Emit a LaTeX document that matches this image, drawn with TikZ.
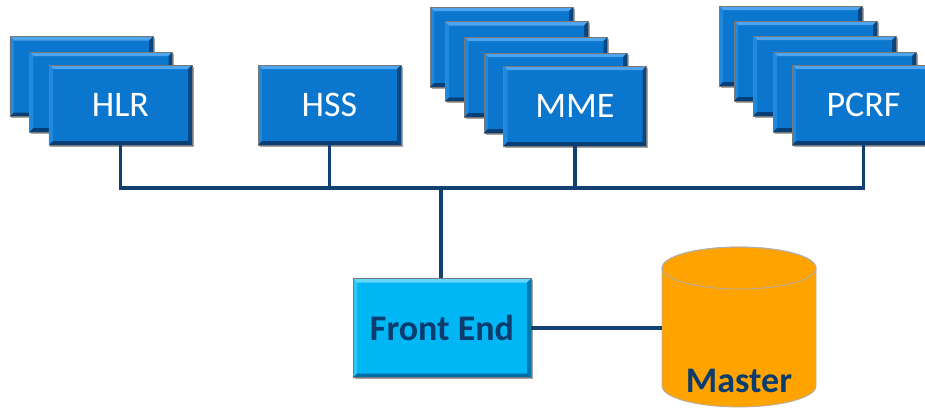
\documentclass[tikz,border=0pt]{standalone}
\usepackage{fontspec}
\setmainfont{Carlito}
\usetikzlibrary{calc,shadows}

\definecolor{boxblue}{RGB}{10,118,206}
\definecolor{bluetop}{RGB}{78,164,238}
\definecolor{blueleft}{RGB}{34,136,220}
\definecolor{blueright}{RGB}{8,70,130}
\definecolor{bluebot}{RGB}{6,62,118}
\definecolor{fecyan}{RGB}{0,182,244}
\definecolor{cyantop}{RGB}{100,214,252}
\definecolor{cyanleft}{RGB}{48,200,250}
\definecolor{cyanright}{RGB}{0,120,176}
\definecolor{cyanbot}{RGB}{0,108,164}
\definecolor{edgegrey}{RGB}{120,120,120}
\definecolor{busnavy}{RGB}{18,64,112}
\definecolor{textnavy}{RGB}{12,60,110}
\definecolor{dborange}{RGB}{255,163,0}
\definecolor{dbedge}{RGB}{175,175,175}

% bevel bands painted inside a rectangular node
\newcommand\bw{4bp}
\newcommand\bevelpaint[4]{%
  \path (path picture bounding box.north west) coordinate (bNW)
        (path picture bounding box.north east) coordinate (bNE)
        (path picture bounding box.south west) coordinate (bSW)
        (path picture bounding box.south east) coordinate (bSE);
  \fill[#1] (bNW) -- (bNE) -- ([shift={(-\bw,-\bw)}]bNE) -- ([shift={(\bw,-\bw)}]bNW) -- cycle;
  \fill[#2] (bNW) -- ([shift={(\bw,-\bw)}]bNW) -- ([shift={(\bw,\bw)}]bSW) -- (bSW) -- cycle;
  \fill[#3] (bNE) -- (bSE) -- ([shift={(-\bw,\bw)}]bSE) -- ([shift={(-\bw,-\bw)}]bNE) -- cycle;
  \fill[#4] (bSW) -- ([shift={(\bw,\bw)}]bSW) -- ([shift={(-\bw,\bw)}]bSE) -- (bSE) -- cycle;
}

\tikzset{
  softshadow/.style={drop shadow={opacity=0.35, shadow xshift=1.5bp,
    shadow yshift=-1.5bp, fill=black}},
  nodebox/.style={rectangle, minimum width=143bp, minimum height=80bp,
    inner sep=0pt, fill=boxblue, draw=edgegrey, line width=0.6bp,
    softshadow, text=white, font=\fontsize{36bp}{42bp}\selectfont,
    path picture={\bevelpaint{bluetop}{blueleft}{blueright}{bluebot}}},
  frontbox/.style={rectangle, minimum width=178bp, minimum height=99bp,
    inner sep=0pt, fill=fecyan, draw=edgegrey, line width=0.6bp,
    softshadow, text=textnavy, font=\fontsize{36bp}{42bp}\selectfont\bfseries,
    path picture={\bevelpaint{cyantop}{cyanleft}{cyanright}{cyanbot}}},
  bus/.style={draw=busnavy, line width=3.3bp},
  dblabel/.style={text=textnavy, inner sep=0pt,
    font=\fontsize{36bp}{42bp}\selectfont\bfseries},
}

\begin{document}
\begin{tikzpicture}[x=1bp, y=-1bp]
\useasboundingbox[fill=white] (0,0) rectangle (925,407);

% HLR stack
\node[nodebox] (hlr1) at (81.5,76.5) {};
\node[nodebox] (hlr2) at (101,92) {};
\node[nodebox] (hlr)  at (120.5,105) {HLR};

% HSS
\node[nodebox] (hss) at (329.5,105) {HSS};

% MME stack
\node[nodebox] (mme1) at (501.5,47) {};
\node[nodebox] (mme2) at (516.5,61.5) {};
\node[nodebox] (mme3) at (536,77) {};
\node[nodebox] (mme4) at (555.5,93) {};
\node[nodebox] (mme)  at (575,106) {MME};

% PCRF stack
\node[nodebox] (pcrf1) at (790.5,46) {};
\node[nodebox] (pcrf2) at (805.5,61) {};
\node[nodebox] (pcrf3) at (824.5,76) {};
\node[nodebox] (pcrf4) at (844.5,92) {};
\node[nodebox] (pcrf)  at (863.5,105) {PCRF};

% Front End
\node[frontbox] (fe) at (442,328) {Front End};

% Master database cylinder
\fill[dborange, draw=dbedge, line width=0.8bp]
  (662,268) -- (662,386) arc[start angle=180, end angle=360, x radius=77bp, y radius=21bp]
  -- (816,268) arc[start angle=0, end angle=180, x radius=77bp, y radius=21bp] -- cycle;
\draw[dbedge, line width=0.8bp] (739,268) ellipse[x radius=77bp, y radius=21bp];
\node[dblabel] (master) at (739,381) {Master};
\coordinate (db) at (662,328);

% signalling bus
\coordinate (bus) at (441,188);
\draw[bus] (hlr.south) -- (hlr.south |- bus) -- (pcrf.south |- bus) -- (pcrf.south);
\draw[bus] (hss.south) -- (hss.south |- bus);
\draw[bus] (mme.south) -- (mme.south |- bus);
\draw[bus] (bus) -- (bus |- fe.north);
\draw[bus] (fe.east) -- (fe.east -| db);
\end{tikzpicture}
\end{document}
